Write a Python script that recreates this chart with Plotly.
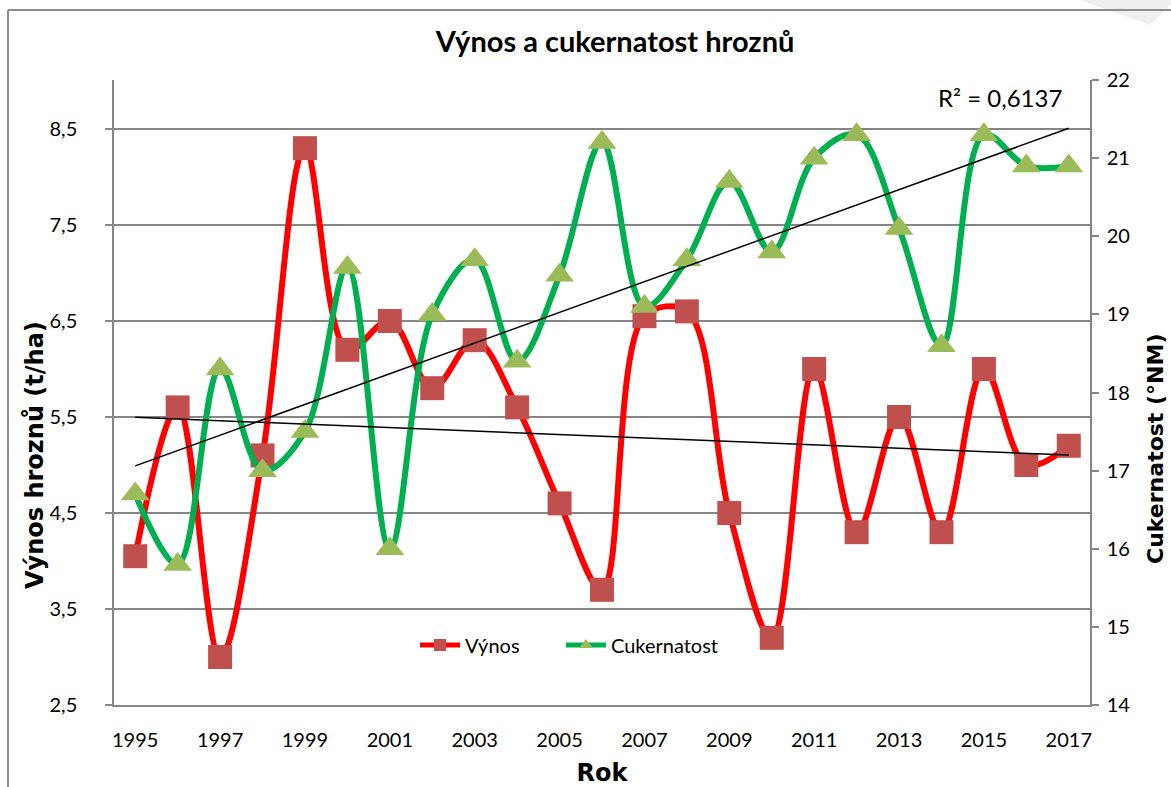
import numpy as np
import plotly.graph_objects as go

# ---- data ----
years = list(range(1995, 2018))
vynos = [4.05, 5.6, 3.0, 5.1, 8.3, 6.2, 6.5, 5.8, 6.3, 5.6, 4.6, 3.7,
         6.55, 6.6, 4.5, 3.2, 6.0, 4.3, 5.5, 4.3, 6.0, 5.0, 5.2]
cukernatost = [16.7, 15.8, 18.3, 17.0, 17.5, 19.6, 16.0, 19.0, 19.7, 18.4, 19.5, 21.2,
               19.1, 19.7, 20.7, 19.8, 21.0, 21.3, 20.1, 18.6, 21.3, 20.9, 20.9]
x_tick_vals = list(range(1995, 2018, 2))
x_tick_labels = [str(y) for y in x_tick_vals]
left_tick_vals = [2.5, 3.5, 4.5, 5.5, 6.5, 7.5, 8.5]
left_tick_labels = ["2,5", "3,5", "4,5", "5,5", "6,5", "7,5", "8,5"]
right_tick_vals = [14, 15, 16, 17, 18, 19, 20, 21, 22]
right_tick_labels = [str(v) for v in right_tick_vals]
r2_text = "R² = 0,6137"
title_text = "Výnos a cukernatost hroznů"
x_title = "Rok"
y_title = "Výnos hroznů (t/ha)"
y2_title = "Cukernatost (°NM)"

# linear trends (Excel-like linear trendlines)
yr = np.array(years, dtype=float)
pv = np.polyfit(yr, np.array(vynos), 1)
pc = np.polyfit(yr, np.array(cukernatost), 1)
trend_x = [years[0], years[-1]]
trend_v = [float(np.polyval(pv, x)) for x in trend_x]
trend_c = [float(np.polyval(pc, x)) for x in trend_x]

FONT = "Lato"
TFONT = "DejaVu Sans"
GREY = "#868686"

fig = go.Figure()
fig.add_trace(go.Scatter(
    x=years, y=vynos, name="Výnos", mode="lines+markers",
    line=dict(color="#FF0000", width=6, shape="spline", smoothing=1.0),
    marker=dict(symbol="square", size=24, color="#C0504D"),
    yaxis="y", legend="legend"))
fig.add_trace(go.Scatter(
    x=years, y=cukernatost, name="Cukernatost", mode="lines+markers",
    line=dict(color="#00B050", width=6, shape="spline", smoothing=1.0),
    marker=dict(symbol="triangle-up", size=25, color="#9BBB59"),
    yaxis="y2", legend="legend2"))
fig.add_trace(go.Scatter(
    x=trend_x, y=trend_c, mode="lines", showlegend=False, hoverinfo="skip",
    line=dict(color="black", width=1.5), yaxis="y2"))
fig.add_trace(go.Scatter(
    x=trend_x, y=trend_v, mode="lines", showlegend=False, hoverinfo="skip",
    line=dict(color="black", width=1.5), yaxis="y3"))

# plot area geometry (pixels)
L, R, T, B = 114, 81, 80, 82
W, H = 1171, 787
pw, ph = W - L - R, H - T - B

def px(xp):
    return (xp - L) / pw

def py(yp):
    return (H - B - yp) / ph

legend_style = dict(orientation="h", xanchor="left", yanchor="middle",
                    bgcolor="rgba(0,0,0,0)", font=dict(family=FONT, size=20),
                    itemwidth=40, itemsizing="constant", tracegroupgap=0)

fig.update_layout(
    width=W, height=H,
    margin=dict(l=L, r=R, t=T, b=B, autoexpand=False),
    paper_bgcolor="white", plot_bgcolor="white",
    font=dict(family=FONT, size=20, color="black"),
    title=dict(text=f"<b>{title_text}</b>", x=615 / W, xref="container",
               xanchor="center", y=1 - 42 / H, yref="container", yanchor="middle",
               font=dict(family=FONT, size=29, color="black")),
    xaxis=dict(range=[1994.5, 2017.5], tickvals=x_tick_vals, ticktext=x_tick_labels,
               showgrid=False, zeroline=False, showline=True, linecolor=GREY, linewidth=1.5,
               ticks="", ticklabelstandoff=16, tickfont=dict(size=20, family=FONT),
               title=dict(text=f"<b>{x_title}</b>", font=dict(family=TFONT, size=24),
                          standoff=16)),
    yaxis=dict(range=[2.5, 9.01], tickvals=left_tick_vals, ticktext=left_tick_labels,
               showgrid=True, gridcolor=GREY, gridwidth=1.5, zeroline=False,
               showline=True, linecolor=GREY, linewidth=1.5,
               ticks="outside", ticklen=7, tickcolor=GREY, tickwidth=1.5,
               ticklabelstandoff=24,
               tickfont=dict(size=20, family=FONT)),
    yaxis2=dict(range=[14, 22], tickvals=right_tick_vals, ticktext=right_tick_labels,
                overlaying="y", side="right", showgrid=False, zeroline=False,
                showline=True, linecolor=GREY, linewidth=1.5,
                ticks="outside", ticklen=7, tickcolor=GREY, tickwidth=1.5,
                ticklabelstandoff=4,
                tickfont=dict(size=20, family=FONT)),
    yaxis3=dict(range=[2.5, 9.01], overlaying="y", visible=False),
    legend=dict(x=px(415), y=py(645), **legend_style),
    legend2=dict(x=px(561), y=py(645), **legend_style),
    showlegend=True,
    annotations=[
        dict(text=r2_text, xref="paper", yref="paper", x=px(1064), y=py(97),
             xanchor="right", yanchor="middle", showarrow=False,
             font=dict(family=FONT, size=24, color="black")),
        dict(text=f"<b>{y_title}</b>", xref="paper", yref="paper", x=px(35), y=py(455),
             xanchor="center", yanchor="middle", textangle=-90, showarrow=False,
             font=dict(family=TFONT, size=24, color="black")),
        dict(text=f"<b>{y2_title}</b>", xref="paper", yref="paper", x=px(1155), y=py(449),
             xanchor="center", yanchor="middle", textangle=-90, showarrow=False,
             font=dict(family=TFONT, size=22, color="black")),
    ],
    shapes=[
        dict(type="path", xref="paper", yref="paper",
             path=f"M {px(1080)},{py(0)} L {px(1171)},{py(0)} L {px(1171)},{py(4)} "
                  f"L {px(1150)},{py(25)} Z",
             fillcolor="#EFEFEF", line=dict(width=0), layer="below"),
        dict(type="line", xref="paper", yref="paper", x0=px(8), x1=px(8), y0=py(10), y1=py(800),
             line=dict(color="#8C8C8C", width=2)),
        dict(type="line", xref="paper", yref="paper", x0=px(8), x1=px(1180), y0=py(10), y1=py(10),
             line=dict(color="#8C8C8C", width=2)),
    ],
)

fig.write_html("out.html", config={"displayModeBar": False},
               post_script="document.body.style.margin='0';document.body.style.overflow='hidden';")
